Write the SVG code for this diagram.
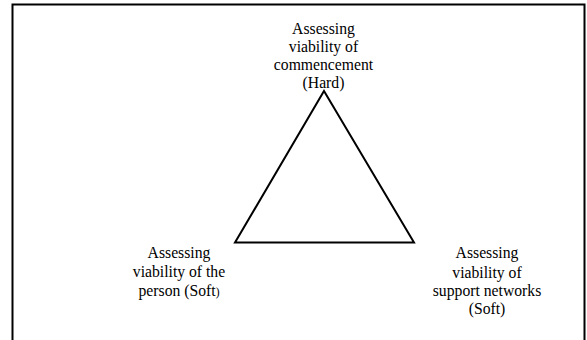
<svg xmlns="http://www.w3.org/2000/svg" width="587" height="340" viewBox="0 0 587 340">
<style>
.lbl{font-family:"Liberation Serif","Times New Roman",serif;font-size:15.7px;fill:#000;text-anchor:middle}
.ln{fill:none;stroke:#000;stroke-width:2}
</style>
<rect width="587" height="340" fill="#fff"/>
<path class="ln" d="M12.5,340 V4.5 H584.5 V340"/>
<g id="connectors">
<path class="ln" d="M324,91 L414,242.5 L235,242.5 Z"/>
</g>
<g id="node-hard">
<text class="lbl" x="323.5" y="33.8">Assessing</text>
<text class="lbl" x="323.5" y="52.1">viability of</text>
<text class="lbl" x="323.5" y="70.4">commencement</text>
<text class="lbl" x="323.5" y="88.4">(Hard)</text>
</g>
<g id="node-person">
<text class="lbl" x="179" y="257.5">Assessing</text>
<text class="lbl" x="179" y="276.8">viability of the</text>
<text class="lbl" x="179" y="296">person (Soft<tspan font-size="11.5px">)</tspan></text>
</g>
<g id="node-support">
<text class="lbl" x="487" y="258">Assessing</text>
<text class="lbl" x="487" y="277.5">viability of</text>
<text class="lbl" x="487" y="296">support networks</text>
<text class="lbl" x="487" y="313.5">(Soft)</text>
</g>
</svg>
